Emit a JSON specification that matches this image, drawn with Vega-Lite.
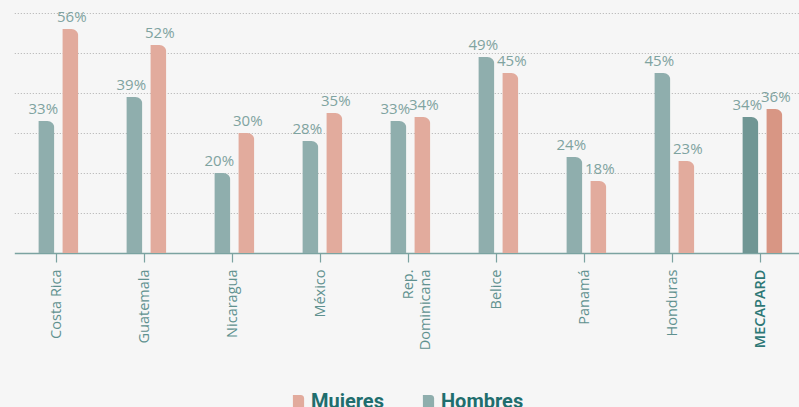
{
  "$schema": "https://vega.github.io/schema/vega-lite/v6.json",
  "width": 787,
  "height": 240,
  "autosize": "none",
  "padding": {"left": 12, "top": 13, "right": 0, "bottom": 154},
  "background": "#f6f6f6",
  "config": {"view": {"stroke": null}, "font": "Open Sans"},
  "data": {
    "values": [
      {"pais": "Costa Rica", "sexo": "Hombres", "valor": 0.33},
      {"pais": "Costa Rica", "sexo": "Mujeres", "valor": 0.56},
      {"pais": "Guatemala", "sexo": "Hombres", "valor": 0.39},
      {"pais": "Guatemala", "sexo": "Mujeres", "valor": 0.52},
      {"pais": "Nicaragua", "sexo": "Hombres", "valor": 0.20},
      {"pais": "Nicaragua", "sexo": "Mujeres", "valor": 0.30},
      {"pais": "México", "sexo": "Hombres", "valor": 0.28},
      {"pais": "México", "sexo": "Mujeres", "valor": 0.35},
      {"pais": "Rep. Dominicana", "sexo": "Hombres", "valor": 0.33},
      {"pais": "Rep. Dominicana", "sexo": "Mujeres", "valor": 0.34},
      {"pais": "Belice", "sexo": "Hombres", "valor": 0.49},
      {"pais": "Belice", "sexo": "Mujeres", "valor": 0.45},
      {"pais": "Panamá", "sexo": "Hombres", "valor": 0.24},
      {"pais": "Panamá", "sexo": "Mujeres", "valor": 0.18},
      {"pais": "Honduras", "sexo": "Hombres", "valor": 0.45},
      {"pais": "Honduras", "sexo": "Mujeres", "valor": 0.23},
      {"pais": "MECAPARD", "sexo": "Hombres", "valor": 0.34},
      {"pais": "MECAPARD", "sexo": "Mujeres", "valor": 0.36}
    ]
  },
  "encoding": {
    "x": {
      "field": "pais",
      "type": "nominal",
      "sort": null,
      "scale": {"range": [2.3, 794.3], "paddingInner": 0, "paddingOuter": 0},
      "axis": {
        "title": null,
        "labelAngle": -90,
        "labelFont": "Open Sans",
        "labelFontSize": 14.5,
        "labelColor": {"condition": {"test": "datum.value === 'MECAPARD'", "value": "#2e7876"}, "value": "#5f918f"},
        "labelFontWeight": {"condition": {"test": "datum.value === 'MECAPARD'", "value": 600}, "value": "normal"},
        "labelExpr": "datum.value === 'Rep. Dominicana' ? ['Rep.', 'Dominicana'] : datum.value",
        "labelLineHeight": 17,
        "labelPadding": 7,
        "tickSize": 9,
        "tickWidth": 1.2,
        "tickColor": "#7ba3a1",
        "tickOffset": -2,
        "domainColor": "#7ba3a1",
        "domainWidth": 1.5,
        "grid": false
      }
    },
    "xOffset": {
      "field": "sexo",
      "sort": ["Hombres", "Mujeres"],
      "scale": {"paddingInner": 0.33, "paddingOuter": 1.046}
    },
    "y": {
      "field": "valor",
      "type": "quantitative",
      "scale": {"domain": [0, 0.6]},
      "axis": {
        "title": null,
        "labels": false,
        "ticks": false,
        "domain": false,
        "grid": true,
        "values": [0.1, 0.2, 0.3, 0.4, 0.5, 0.6],
        "gridColor": "#b0b0b0",
        "gridDash": [1, 2],
        "gridWidth": 1
      }
    }
  },
  "layer": [
    {
      "mark": {"type": "bar", "cornerRadiusTopRight": 7},
      "encoding": {
        "color": {
          "condition": [
            {"test": "datum.pais === 'MECAPARD' && datum.sexo === 'Hombres'", "value": "#709694"},
            {"test": "datum.pais === 'MECAPARD' && datum.sexo === 'Mujeres'", "value": "#d89684"}
          ],
          "field": "sexo",
          "type": "nominal",
          "scale": {"domain": ["Mujeres", "Hombres"], "range": ["#e2ab9d", "#8faead"]},
          "legend": {
            "orient": "none",
            "legendX": 276.5,
            "legendY": 379,
            "direction": "horizontal",
            "title": null,
            "padding": 0,
            "symbolType": "M-0.8,-1 L0.3,-1 Q0.8,-1 0.8,-0.5 L0.8,1 L-0.8,1 Z",
            "symbolSize": 196,
            "symbolStrokeWidth": 0,
            "symbolOpacity": 1,
            "labelFont": "Roboto",
            "labelFontSize": 20,
            "labelFontWeight": "bold",
            "labelColor": "#1f6e6e",
            "labelOffset": 2.5,
            "columnPadding": 34
          }
        }
      }
    },
    {
      "transform": [{"filter": "datum.sexo === 'Hombres'"}],
      "mark": {"type": "text", "baseline": "bottom", "dy": -4, "dx": -3, "fontSize": 15, "font": "Open Sans", "color": "#7fa3a0"},
      "encoding": {"text": {"field": "valor", "format": ".0%"}}
    },
    {
      "transform": [{"filter": "datum.sexo === 'Mujeres'"}],
      "mark": {"type": "text", "baseline": "bottom", "dy": -4, "dx": 1.5, "fontSize": 15, "font": "Open Sans", "color": "#7fa3a0"},
      "encoding": {"text": {"field": "valor", "format": ".0%"}}
    }
  ]
}
